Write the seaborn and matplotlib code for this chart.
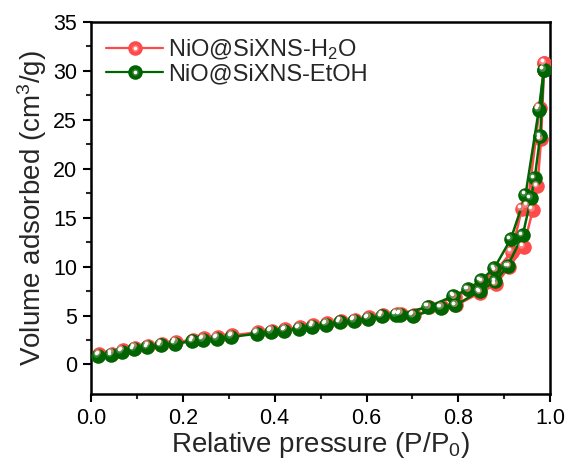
import numpy as np
import pandas as pd
import seaborn as sns
import matplotlib
matplotlib.use("Agg")
import matplotlib.pyplot as plt
from matplotlib.lines import Line2D
from matplotlib.legend_handler import HandlerTuple
import matplotlib.transforms as mtrans

# ---- data ----
h2o_ads_x = [0.018, 0.046, 0.069, 0.096, 0.125, 0.154, 0.185, 0.223, 0.246, 0.276, 0.308,
             0.363, 0.394, 0.423, 0.455, 0.484, 0.514, 0.544, 0.575, 0.605, 0.635, 0.666,
             0.703, 0.764, 0.795, 0.848, 0.882, 0.911, 0.942, 0.962, 0.972, 0.980, 0.987]
h2o_ads_y = [1.05, 1.10, 1.45, 1.72, 1.92, 2.12, 2.30, 2.52, 2.66, 2.76, 2.97,
             3.30, 3.47, 3.61, 3.81, 4.02, 4.22, 4.46, 4.59, 4.83, 5.07, 5.20,
             5.05, 5.85, 6.05, 7.35, 8.20, 10.0, 12.0, 15.8, 18.2, 23.0, 30.8]
h2o_des_x = [0.987, 0.977, 0.950, 0.938, 0.916, 0.882, 0.852, 0.823, 0.792, 0.736, 0.675]
h2o_des_y = [30.8, 26.2, 16.2, 15.9, 11.5, 9.6, 8.5, 7.6, 6.9, 5.9, 5.2]

etoh_ads_x = [0.016, 0.044, 0.067, 0.094, 0.123, 0.152, 0.183, 0.221, 0.244, 0.274, 0.306,
              0.361, 0.392, 0.421, 0.453, 0.482, 0.512, 0.542, 0.573, 0.603, 0.633, 0.664,
              0.701, 0.762, 0.793, 0.846, 0.880, 0.907, 0.940, 0.958, 0.966, 0.978, 0.986]
etoh_ads_y = [0.89, 0.95, 1.29, 1.56, 1.76, 1.97, 2.14, 2.37, 2.51, 2.61, 2.81,
              3.15, 3.32, 3.46, 3.66, 3.87, 4.07, 4.31, 4.44, 4.68, 4.92, 5.05,
              4.95, 5.77, 6.03, 7.49, 8.48, 10.04, 13.2, 16.96, 19.0, 23.3, 30.1]
etoh_des_x = [0.986, 0.975, 0.946, 0.914, 0.878, 0.849, 0.820, 0.789, 0.733, 0.672]
etoh_des_y = [30.1, 26.0, 17.3, 12.8, 9.84, 8.61, 7.66, 6.99, 5.87, 5.09]

labels = ["NiO@SiXNS-H$_2$O", "NiO@SiXNS-EtOH"]
colors = ["#ff4a4a", "#006400"]
mid_colors = ["#ff8e8e", "#4c8f4c"]
hl_colors = ["#ffffff", "#ffffff"]

x_ticks = [0.0, 0.2, 0.4, 0.6, 0.8, 1.0]
y_ticks = [0, 5, 10, 15, 20, 25, 30, 35]

rows = []
for lab, branches in zip(labels, [((h2o_ads_x, h2o_ads_y), (h2o_des_x, h2o_des_y)),
                                  ((etoh_ads_x, etoh_ads_y), (etoh_des_x, etoh_des_y))]):
    for bname, (bx, by) in zip(["ads", "des"], branches):
        for i, (xx, yy) in enumerate(zip(bx, by)):
            rows.append(dict(sample=lab, branch=bname, order=i, p=xx, v=yy))
df = pd.DataFrame(rows)

sns.set_theme(style="ticks")
plt.rcParams["font.family"] = ["Liberation Sans", "DejaVu Sans"]
plt.rcParams["mathtext.fontset"] = "custom"
plt.rcParams["mathtext.rm"] = "Liberation Sans"
plt.rcParams["mathtext.it"] = "Liberation Sans:italic"

fig = plt.figure(figsize=(5.72, 4.65), dpi=100)
ax = fig.add_axes([0.159, 0.153, 0.803, 0.800])

MS = 10.5
palette = dict(zip(labels, colors))
sns.lineplot(data=df, x="p", y="v", hue="sample", units="branch", estimator=None,
             sort=False, palette=palette, marker="o", markersize=MS,
             markeredgewidth=0, linewidth=1.8, legend=False, ax=ax, zorder=3)

# sphere shading (soft halo + specular spot), offset up-left in screen space
off_mid = mtrans.offset_copy(ax.transData, fig=fig, x=-1.6, y=1.6, units="points")
off_hl = mtrans.offset_copy(ax.transData, fig=fig, x=-1.9, y=1.9, units="points")
series_pts = [(h2o_ads_x + h2o_des_x, h2o_ads_y + h2o_des_y),
              (etoh_ads_x + etoh_des_x, etoh_ads_y + etoh_des_y)]
for (bx, by), mc, hc in zip(series_pts, mid_colors, hl_colors):
    ax.plot(bx, by, ls="none", marker="o", markersize=4.8, color=mc, markeredgewidth=0,
            transform=off_mid, zorder=4, alpha=0.75)
    ax.plot(bx, by, ls="none", marker="o", markersize=2.6, color=hc, markeredgewidth=0,
            transform=off_hl, zorder=5)

ax.set_xlim(0, 1.0)
ax.set_ylim(-3, 35)
ax.set_xticks(x_ticks)
ax.set_xticklabels([f"{t:.1f}" for t in x_ticks])
ax.set_yticks(y_ticks)
ax.set_xticks(np.arange(0.1, 1.0, 0.2), minor=True)
ax.set_yticks(np.arange(2.5, 35, 5), minor=True)
ax.tick_params(axis="both", which="major", direction="out", length=6, width=1.5,
               labelsize=15.5, colors="black", pad=4)
ax.tick_params(axis="both", which="minor", direction="out", length=3.5, width=1.5)
ax.tick_params(top=False, right=False)
for s in ax.spines.values():
    s.set_linewidth(1.8)
    s.set_color("black")

ax.set_xlabel("Relative pressure (P/P$_0$)", fontsize=20, labelpad=1)
ax.set_ylabel("Volume adsorbed (cm$^3$/g)", fontsize=20, labelpad=3)

handles = []
for c, mc, hc in zip(colors, mid_colors, hl_colors):
    h1 = Line2D([], [], color=c, marker="o", markersize=MS, markeredgewidth=0, linewidth=1.6)
    h2 = Line2D([], [], ls="none", marker="o", markersize=4.8, color=mc, markeredgewidth=0, alpha=0.75)
    h3 = Line2D([], [], ls="none", marker="o", markersize=2.6, color=hc, markeredgewidth=0)
    handles.append((h1, h2, h3))
ax.legend(handles, labels, handler_map={tuple: HandlerTuple(ndivide=1, pad=0)},
          loc="upper left", bbox_to_anchor=(0.0, 1.0), frameon=False, fontsize=17,
          handlelength=2.4, handletextpad=0.2, labelspacing=0.05, borderaxespad=0.35,
          borderpad=0.3)

fig.savefig("out.png", dpi=100)
